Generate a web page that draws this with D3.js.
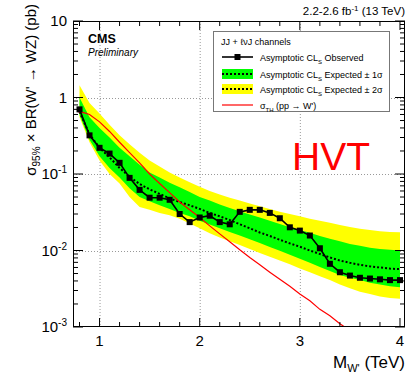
<!DOCTYPE html>
<html>
<head>
<meta charset="utf-8">
<script src="https://cdn.jsdelivr.net/npm/d3@7"></script>
<style>
  html, body { margin: 0; padding: 0; background: #fff; }
  svg { display: block; font-family: "Liberation Sans", Arial, Helvetica, sans-serif; }
</style>
</head>
<body>
<svg id="chart" width="419" height="376"></svg>
<script>
// Resonance mass points (TeV)
const mass = [0.8, 0.9, 1.0, 1.1, 1.2, 1.3, 1.4, 1.5, 1.6, 1.7, 1.8, 1.9, 2.0, 2.1, 2.2, 2.3, 2.4,
              2.5, 2.6, 2.7, 2.8, 2.9, 3.0, 3.1, 3.2, 3.3, 3.4, 3.5, 3.6, 3.7, 3.8, 3.9, 4.0];

// Observed 95% CL upper limit (pb)
const observed = [0.70, 0.32, 0.22, 0.185, 0.14, 0.089, 0.062, 0.049, 0.049, 0.046, 0.030, 0.0235, 0.027,
                  0.0285, 0.0235, 0.022, 0.032, 0.034, 0.034, 0.031, 0.0264, 0.0201, 0.0182, 0.0157, 0.0107,
                  0.0067, 0.0052, 0.0047, 0.0044, 0.0043, 0.0042, 0.0041, 0.0041];

// Median expected limit (pb)
const expected = [0.65, 0.33, 0.22, 0.165, 0.12, 0.092, 0.074, 0.063, 0.055, 0.048, 0.043, 0.039, 0.035,
                  0.031, 0.028, 0.025, 0.022, 0.0195, 0.0172, 0.0155, 0.0138, 0.0124, 0.0112, 0.0100, 0.0090,
                  0.0081, 0.0074, 0.0069, 0.0065, 0.0062, 0.0060, 0.0058, 0.0057];

// +/- 1 sigma band edges
const exp1Up = [1.0, 0.55, 0.40, 0.30, 0.22, 0.17, 0.132, 0.105, 0.090, 0.077, 0.067, 0.058, 0.050,
                0.045, 0.040, 0.036, 0.0325, 0.0295, 0.027, 0.0245, 0.0222, 0.0202, 0.0185, 0.017, 0.0155,
                0.0142, 0.0132, 0.0122, 0.0115, 0.0109, 0.0105, 0.0102, 0.0100];
const exp1Dn = [0.59, 0.28, 0.17, 0.12, 0.090, 0.065, 0.050, 0.044, 0.039, 0.035, 0.031, 0.028, 0.0245,
                0.0218, 0.0195, 0.0175, 0.0157, 0.0140, 0.0125, 0.0111, 0.0099, 0.0088, 0.0078, 0.0069, 0.0061,
                0.0054, 0.0048, 0.0044, 0.0041, 0.0038, 0.0036, 0.0034, 0.0033];

// +/- 2 sigma band edges
const exp2Up = [1.45, 0.85, 0.62, 0.44, 0.32, 0.245, 0.19, 0.15, 0.125, 0.105, 0.090, 0.078, 0.068,
                0.060, 0.054, 0.049, 0.045, 0.041, 0.038, 0.035, 0.032, 0.030, 0.028, 0.026, 0.0245,
                0.023, 0.0215, 0.0203, 0.0193, 0.0185, 0.0179, 0.0175, 0.0173];
const exp2Dn = [0.55, 0.26, 0.15, 0.10, 0.075, 0.050, 0.037, 0.034, 0.031, 0.029, 0.026, 0.0225, 0.0195,
                0.0168, 0.0148, 0.0132, 0.0118, 0.0105, 0.0093, 0.0083, 0.0074, 0.0066, 0.0058, 0.0052, 0.0046,
                0.0041, 0.0036, 0.0032, 0.0029, 0.0027, 0.0025, 0.0024, 0.00234];

// Theory cross section sigma(pp -> W') x BR, HVT model (pb)
const theoryMass = [0.78, 0.85, 0.9, 1.0, 1.1, 1.2, 1.3, 1.4, 1.5, 1.6, 1.7, 1.8, 1.9, 2.0, 2.1, 2.2, 2.3,
                    2.4, 2.5, 2.6, 2.7, 2.8, 2.9, 3.0, 3.1, 3.2, 3.3, 3.4, 3.5, 3.6];
const theory = [0.66, 0.63, 0.60, 0.48, 0.36, 0.26, 0.19, 0.14, 0.10, 0.075, 0.057, 0.043, 0.034, 0.027,
                0.021, 0.0165, 0.013, 0.0102, 0.0081, 0.0065, 0.0052, 0.0042, 0.0034, 0.0027, 0.0022,
                0.0017, 0.0014, 0.0011, 0.0009, 0.00072];

const yTickValues = [10, 1, 0.1, 0.01, 0.001];
const yTickLabels = [["10", ""], ["1", ""], ["10", "-1"], ["10", "-2"], ["10", "-3"]];
const xTickValues = [1, 2, 3, 4];

const svg = d3.select("#chart");
const L = 73, R = 405, T = 21, B = 327;

const x = d3.scaleLinear().domain([0.735, 4.05]).range([L, R]);
const y = d3.scaleLog().domain([1e-3, 10]).range([B, T]);

svg.append("defs").append("clipPath").attr("id", "plotclip")
  .append("rect").attr("x", L).attr("y", T).attr("width", R - L).attr("height", B - T);

// Grid lines
const grid = svg.append("g").attr("stroke", "#999").attr("stroke-width", 1).attr("stroke-dasharray", "1,2");
[1, 2, 3].forEach(v => grid.append("line").attr("x1", x(v) + 0.5).attr("x2", x(v) + 0.5).attr("y1", T).attr("y2", B));
[1, 0.1, 0.01].forEach(v => grid.append("line").attr("x1", L).attr("x2", R).attr("y1", Math.round(y(v)) + 0.5).attr("y2", Math.round(y(v)) + 0.5));

const plot = svg.append("g").attr("clip-path", "url(#plotclip)");

const idx = d3.range(mass.length);
const band = (lo, hi) => d3.area().x(i => x(mass[i])).y0(i => y(lo[i])).y1(i => y(hi[i]));

plot.append("path").datum(idx).attr("d", band(exp2Dn, exp2Up)).attr("fill", "#ffff00");
plot.append("path").datum(idx).attr("d", band(exp1Dn, exp1Up)).attr("fill", "#00ff00");

plot.append("path").datum(idx)
  .attr("d", d3.line().x(i => x(mass[i])).y(i => y(expected[i])))
  .attr("fill", "none").attr("stroke", "#000").attr("stroke-width", 2).attr("stroke-dasharray", "2,2");

plot.append("path").datum(d3.range(theoryMass.length))
  .attr("d", d3.line().x(i => x(theoryMass[i])).y(i => y(theory[i])))
  .attr("fill", "none").attr("stroke", "#ff0000").attr("stroke-width", 1.2);

plot.append("path").datum(idx)
  .attr("d", d3.line().x(i => x(mass[i])).y(i => y(observed[i])))
  .attr("fill", "none").attr("stroke", "#000").attr("stroke-width", 1.6);

plot.selectAll("rect.obs").data(idx).enter().append("rect")
  .attr("class", "obs")
  .attr("x", i => x(mass[i]) - 3).attr("y", i => y(observed[i]) - 3)
  .attr("width", 6).attr("height", 6).attr("fill", "#000");

// Frame
svg.append("rect").attr("x", L + 0.5).attr("y", T + 0.5).attr("width", R - L - 1).attr("height", B - T - 1)
  .attr("fill", "none").attr("stroke", "#000").attr("stroke-width", 1);

// Axes with inward ticks (bottom/top and left/right)
const xMinor = d3.range(0.8, 4.05, 0.2).filter(v => Math.abs(v - Math.round(v)) > 1e-6);
const ticks = svg.append("g").attr("stroke", "#000").attr("stroke-width", 1);
xTickValues.forEach(v => {
  ticks.append("line").attr("x1", x(v)).attr("x2", x(v)).attr("y1", B).attr("y2", B - 9);
  ticks.append("line").attr("x1", x(v)).attr("x2", x(v)).attr("y1", T).attr("y2", T + 9);
});
xMinor.forEach(v => {
  ticks.append("line").attr("x1", x(v)).attr("x2", x(v)).attr("y1", B).attr("y2", B - 5);
  ticks.append("line").attr("x1", x(v)).attr("x2", x(v)).attr("y1", T).attr("y2", T + 5);
});
const yMinor = [];
[0.001, 0.01, 0.1, 1].forEach(d => { for (let k = 2; k <= 9; k++) yMinor.push(d * k); });
yTickValues.forEach(v => {
  ticks.append("line").attr("x1", L).attr("x2", L + 10).attr("y1", y(v)).attr("y2", y(v));
  ticks.append("line").attr("x1", R).attr("x2", R - 10).attr("y1", y(v)).attr("y2", y(v));
});
yMinor.forEach(v => {
  ticks.append("line").attr("x1", L).attr("x2", L + 5).attr("y1", y(v)).attr("y2", y(v));
  ticks.append("line").attr("x1", R).attr("x2", R - 5).attr("y1", y(v)).attr("y2", y(v));
});

// Tick labels
yTickValues.forEach((v, i) => {
  const t = svg.append("text").attr("x", 67).attr("y", y(v) + 5).attr("text-anchor", "end")
    .attr("font-size", 15).attr("fill", "#000");
  t.append("tspan").text(yTickLabels[i][0]);
  if (yTickLabels[i][1]) t.append("tspan").attr("dy", -6).attr("font-size", 10).text(yTickLabels[i][1]);
});
xTickValues.forEach(v => {
  svg.append("text").attr("x", x(v)).attr("y", 346).attr("text-anchor", "middle")
    .attr("font-size", 15).attr("fill", "#000").text(v);
});

// Axis titles
const xt = svg.append("text").attr("x", R).attr("y", 368).attr("text-anchor", "end").attr("font-size", 17);
xt.append("tspan").text("M");
xt.append("tspan").attr("dy", 4).attr("font-size", 11).text("W'");
xt.append("tspan").attr("dy", -4).text(" (TeV)");

const yt = svg.append("text").attr("transform", "translate(36,4) rotate(-90)")
  .attr("text-anchor", "end").attr("font-size", 15);
yt.append("tspan").text("σ");
yt.append("tspan").attr("dy", 4).attr("font-size", 10).text("95%");
yt.append("tspan").attr("dy", -4).text(" × BR(W' → WZ) (pb)");

// Header texts
const lumi = svg.append("text").attr("x", R).attr("y", 15).attr("text-anchor", "end").attr("font-size", 11.5);
lumi.append("tspan").text("2.2-2.6 fb");
lumi.append("tspan").attr("dy", -4).attr("font-size", 8).text("-1");
lumi.append("tspan").attr("dy", 4).text(" (13 TeV)");

svg.append("text").attr("x", 88).attr("y", 43).attr("font-size", 12.5).attr("font-weight", "bold").text("CMS");
svg.append("text").attr("x", 88).attr("y", 56).attr("font-size", 10).attr("font-style", "italic").text("Preliminary");

svg.append("text").attr("x", 292).attr("y", 170).attr("font-size", 39).attr("fill", "#ff0000").text("HVT");

// Legend
const lg = svg.append("g");
lg.append("rect").attr("x", 213.5).attr("y", 31.5).attr("width", 176).attr("height", 80)
  .attr("fill", "#fff").attr("stroke", "#777").attr("stroke-width", 1);
lg.append("text").attr("x", 221).attr("y", 45).attr("font-size", 9).text("JJ + ℓνJ channels");

const rowY = [57, 74, 89, 105];
const sx0 = 222, sx1 = 253, tx = 260;
// observed
lg.append("line").attr("x1", sx0).attr("x2", sx1).attr("y1", rowY[0]).attr("y2", rowY[0]).attr("stroke", "#000").attr("stroke-width", 1.6);
lg.append("rect").attr("x", (sx0 + sx1) / 2 - 3).attr("y", rowY[0] - 3).attr("width", 6).attr("height", 6).attr("fill", "#000");
// bands
["#00ff00", "#ffff00"].forEach((c, k) => {
  const yy = rowY[k + 1];
  lg.append("rect").attr("x", sx0).attr("y", yy - 5).attr("width", sx1 - sx0).attr("height", 10).attr("fill", c);
  lg.append("line").attr("x1", sx0).attr("x2", sx1).attr("y1", yy).attr("y2", yy)
    .attr("stroke", "#000").attr("stroke-width", 2).attr("stroke-dasharray", "2,2");
});
// theory
lg.append("line").attr("x1", sx0).attr("x2", sx1).attr("y1", rowY[3]).attr("y2", rowY[3]).attr("stroke", "#ff0000").attr("stroke-width", 1.2);

const legText = (row, label, sub, rest) => {
  const t = lg.append("text").attr("x", tx).attr("y", rowY[row] + 3.5).attr("font-size", 9).attr("fill", "#000");
  t.append("tspan").text(label);
  t.append("tspan").attr("dy", 3).attr("font-size", 6).text(sub);
  t.append("tspan").attr("dy", -3).text(rest);
};
legText(0, "Asymptotic CL", "S", " Observed");
legText(1, "Asymptotic CL", "S", " Expected ± 1σ");
legText(2, "Asymptotic CL", "S", " Expected ± 2σ");
legText(3, "σ", "TH", " (pp → W')");
</script>
</body>
</html>
